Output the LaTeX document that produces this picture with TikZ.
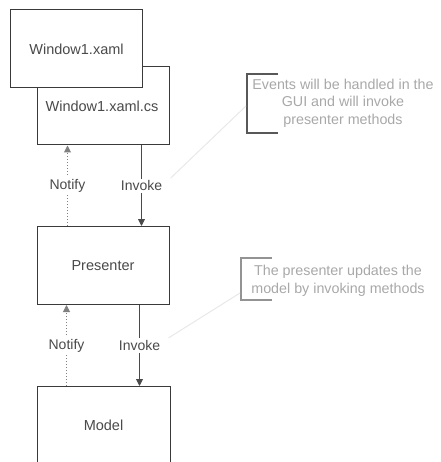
\documentclass[tikz,border=0pt]{standalone}
\usepackage{fontspec}
\setmainfont{Liberation Sans}
\usetikzlibrary{arrows.meta}
\definecolor{edge}{HTML}{3A3A3A}
\definecolor{ink}{HTML}{4A4A4A}
\definecolor{note}{HTML}{A8A8A8}
\definecolor{leader}{HTML}{E8E8E8}
\tikzset{
  box/.style={draw=edge, line width=1pt, fill=white, text=ink,
    minimum width=132pt, minimum height=78pt, inner sep=0pt,
    font=\fontsize{14.5}{17.5}\selectfont},
  invoke/.style={draw=ink, line width=0.9pt,
    -{Triangle[width=7pt,length=7pt]}},
  notify/.style={draw=ink!70, line width=1pt, dotted,
    -{Triangle[width=7pt,length=7pt]}},
  lbl/.style={fill=white, text=ink, inner sep=2pt,
    font=\fontsize{14}{16}\selectfont},
  notetext/.style={text=note, align=center, inner sep=0pt,
    font=\fontsize{14.3}{17.5}\selectfont},
  bracket/.style={draw=#1, line width=1.1pt},
  leaderline/.style={draw=leader, line width=1pt}
}
\begin{document}
\begin{tikzpicture}[x=1pt, y=-1pt]
  \useasboundingbox (0,0) rectangle (440,462);
  \clip (0,0) rectangle (440,462);

  % view layer: code-behind under the XAML
  \node[box] (cs)   at (103,106) {};
  \node[ink, font=\fontsize{14.5}{17.5}\selectfont] (cstext) at (102,106) {Window1.xaml.cs};
  \node[box] (xaml) at (76.5,49) {Window1.xaml};

  % presenter and model
  \node[box] (pres)  at (103,265.5) {Presenter};
  \node[box, minimum width=133pt] (model) at (103.5,425.5) {Model};

  % view <-> presenter
  \draw[invoke] ([xshift=105pt]cs.south west) -- node[lbl] (inv1) {Invoke} ([xshift=105pt]pres.north west);
  \draw[notify] ([xshift=31pt]pres.north west) -- node[lbl, solid] (not1) {Notify} ([xshift=31pt]cs.south west);

  % presenter <-> model
  \draw[invoke] ([xshift=103pt]pres.south west) -- node[lbl] (inv2) {Invoke} ([xshift=103pt]model.north west);
  \draw[notify] ([xshift=30pt]model.north west) -- node[lbl, solid] (not2) {Notify} ([xshift=30pt]pres.south west);

  % annotation for the view
  \node[notetext] (note1) at (343,103) {Events will be handled in the\\GUI and will invoke\\presenter methods};
  \coordinate (b1top) at (247,74);
  \coordinate (b1bot) at (247,133);
  \draw[bracket=edge!85] ([xshift=31pt]b1top) -- (b1top) -- (b1bot) -- ([xshift=31pt]b1bot);
  \coordinate (lead1) at (246,106);
  \draw[leaderline] (lead1) -- ([xshift=6pt]inv1.north east);

  % annotation for the presenter
  \node[notetext] (note2) at (338,281) {The presenter updates the\\model by invoking methods};
  \coordinate (b2top) at (241,258);
  \coordinate (b2bot) at (241,300);
  \draw[bracket=edge!55] ([xshift=31pt]b2top) -- (b2top) -- (b2bot) -- ([xshift=31pt]b2bot);
  \coordinate (lead2) at (240,293);
  \draw[leaderline] (lead2) -- ([xshift=6pt]inv2.north east);
\end{tikzpicture}
\end{document}
